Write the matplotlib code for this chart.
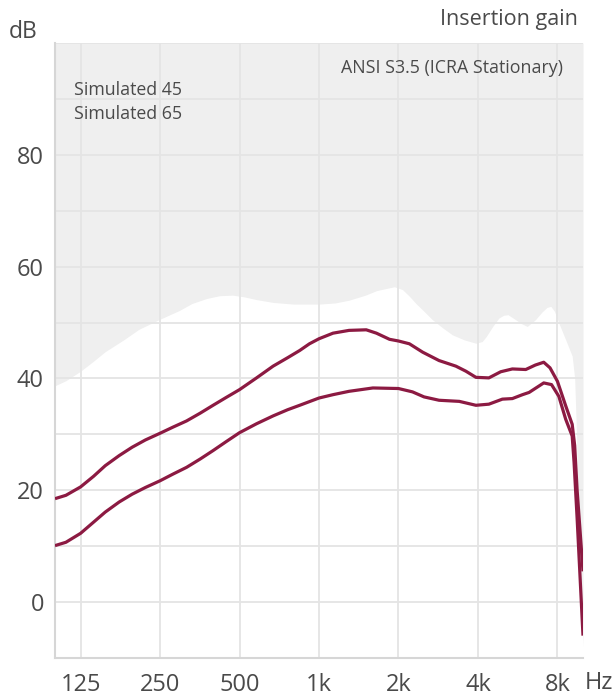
import matplotlib
matplotlib.use("Agg")
import matplotlib.pyplot as plt
import numpy as np

# ---- data ----
limit_freq = [100, 110, 125, 140, 155, 182, 208, 250, 297, 330, 375, 420, 470, 520, 580, 670, 800,
              1000, 1150, 1300, 1500, 1650, 1800, 1930, 2070, 2200, 2330, 2500, 2690, 2950, 3200,
              3550, 3930, 4150, 4300, 4550, 4800, 5000, 5200, 5560, 5850, 6150, 6600, 7000, 7300,
              7550, 7800, 8100, 8600, 9100, 9300, 9450, 9650, 10000]
limit_db = [38.7, 39.6, 41.3, 43.1, 44.8, 46.9, 48.8, 50.6, 52.2, 53.4, 54.3, 54.8, 54.9, 54.6, 54.1, 53.6, 53.3,
            53.3, 53.5, 54.0, 54.9, 55.7, 56.1, 56.4, 55.9, 54.7, 53.4, 52.0, 50.5, 49.0, 47.8,
            46.9, 46.3, 46.6, 47.5, 49.3, 50.8, 51.3, 51.4, 50.5, 49.8, 49.3, 50.5, 51.9, 52.7,
            52.9, 52.0, 49.9, 46.9, 44.0, 40.0, 30.0, 10.0, -8.0]

s45_freq = [100, 110, 125, 140, 155, 175, 196, 220, 250, 280, 315, 355, 397, 445, 500, 580, 670, 760,
            845, 920, 1000, 1130, 1300, 1510, 1650, 1850, 2000, 2200, 2470, 2850, 3300, 3600, 3930,
            4400, 4880, 5400, 6070, 6600, 7100, 7500, 8000, 8600, 9100, 9300, 9500, 10000]
s45_db = [18.5, 19.1, 20.6, 22.5, 24.4, 26.2, 27.7, 29.0, 30.2, 31.3, 32.4, 33.8, 35.2, 36.6, 38.0, 40.1, 42.2, 43.7,
          45.0, 46.2, 47.1, 48.1, 48.6, 48.7, 48.1, 47.0, 46.7, 46.2, 44.7, 43.2, 42.2, 41.3, 40.2,
          40.1, 41.2, 41.7, 41.6, 42.4, 42.9, 41.9, 39.5, 35.1, 31.8, 28.0, 20.0, 5.5]

s65_freq = [100, 110, 125, 140, 155, 175, 196, 220, 250, 280, 315, 355, 397, 445, 500, 580, 670, 760,
            845, 1000, 1130, 1300, 1600, 2000, 2260, 2500, 2850, 3400, 3930, 4400, 4950, 5400,
            5900, 6250, 7100, 7600, 8100, 8600, 9100, 9250, 9500, 10000]
s65_db = [10.1, 10.7, 12.3, 14.3, 16.1, 17.9, 19.3, 20.5, 21.7, 22.9, 24.1, 25.6, 27.1, 28.7, 30.3, 31.9, 33.3, 34.4,
          35.2, 36.5, 37.1, 37.7, 38.3, 38.2, 37.6, 36.7, 36.1, 35.9, 35.2, 35.4, 36.3, 36.4,
          37.1, 37.5, 39.2, 38.9, 36.8, 32.7, 29.7, 25.0, 15.0, -6.0]

x_ticks = [125, 250, 500, 1000, 2000, 4000, 8000]
x_tick_labels = ["125", "250", "500", "1k", "2k", "4k", "8k"]
y_ticks = [0, 20, 40, 60, 80]
y_grid = [-10, 0, 10, 20, 30, 40, 50, 60, 70, 80, 90, 100]

# ---- figure ----
plt.rcParams['font.family'] = ['Open Sans', 'DejaVu Sans']
W, H = 615, 698
fig = plt.figure(figsize=(W / 100, H / 100), dpi=100)
L, R, T, B = 55, 583, 43, 658
ax = fig.add_axes([L / W, 1 - B / H, (R - L) / W, (B - T) / H])
ax.set_xscale('log')
ax.set_xlim(100, 10000)
ax.set_ylim(-10, 100)

line_color = '#8c1a42'
text_color = '#4a4a4a'
ax.fill_between(limit_freq, limit_db, 100, color='#efefef', lw=0, zorder=1)

for f in x_ticks:
    ax.axvline(f, color='#e4e4e4', lw=1.3, zorder=2)
for v in y_grid:
    ax.axhline(v, color='#e4e4e4', lw=1.3, zorder=2)

ax.plot(s45_freq, s45_db, color=line_color, lw=2.3, zorder=4, solid_capstyle='butt')
ax.plot(s65_freq, s65_db, color=line_color, lw=2.3, zorder=4, solid_capstyle='butt')

ax.set_xticks(x_ticks)
ax.set_xticklabels(x_tick_labels)
ax.xaxis.set_minor_locator(matplotlib.ticker.NullLocator())
ax.set_yticks(y_ticks)
ax.tick_params(length=0, labelsize=17, colors=text_color, pad=11)
ax.tick_params(axis='y', pad=8)
for s in ['top', 'right']:
    ax.spines[s].set_visible(False)
for s in ['left', 'bottom']:
    ax.spines[s].set_color('#d6d6d6')
    ax.spines[s].set_linewidth(1.5)
    ax.spines[s].set_zorder(3)
ax.set_facecolor('white')

def px(x, y):
    return x / W, 1 - y / H

fig.text(*px(9, 32), "dB", fontsize=16.5, color=text_color, ha='left', va='center')
fig.text(*px(578, 20), "Insertion gain", fontsize=15.5, color=text_color, ha='right', va='center')
fig.text(*px(563, 68), "ANSI S3.5 (ICRA Stationary)", fontsize=12.8, color=text_color, ha='right', va='center')
fig.text(*px(74, 90), "Simulated 45", fontsize=12.8, color=text_color, ha='left', va='center')
fig.text(*px(74, 114), "Simulated 65", fontsize=12.8, color=text_color, ha='left', va='center')
fig.text(*px(585, 683), "Hz", fontsize=17, color=text_color, ha='left', va='center')

fig.savefig("out.png", dpi=100)
